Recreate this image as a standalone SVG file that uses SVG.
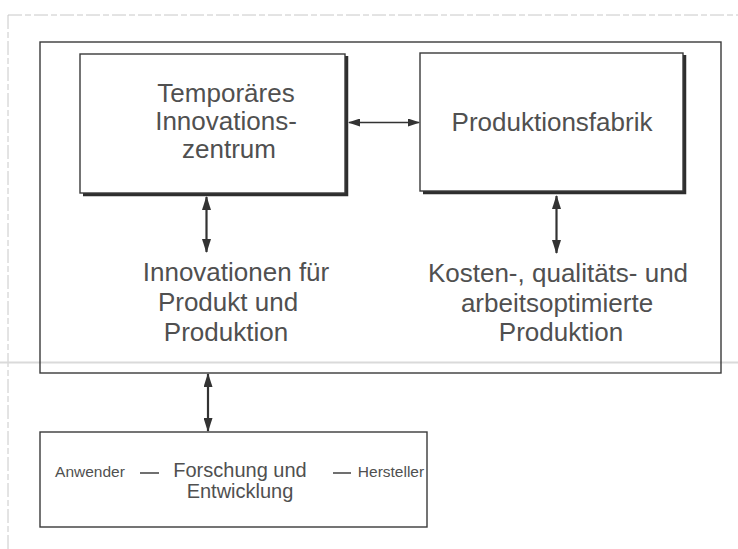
<svg xmlns="http://www.w3.org/2000/svg" width="738" height="549" viewBox="0 0 738 549">
  <defs>
    <marker id="head" viewBox="0 0 12 8" refX="11" refY="4" markerWidth="12" markerHeight="8" markerUnits="userSpaceOnUse" orient="auto-start-reverse">
      <path d="M0,0 L12,4 L0,8 Z" fill="#333"/>
    </marker>
    <marker id="headV" viewBox="0 0 14 9" refX="13" refY="4.5" markerWidth="14" markerHeight="9" markerUnits="userSpaceOnUse" orient="auto-start-reverse">
      <path d="M0,0 L14,4.5 L0,9 Z" fill="#333"/>
    </marker>
    <style>
      .frame { fill: none; stroke: #3a3a3a; stroke-width: 1.4; }
      .box { fill: #fff; stroke: #3a3a3a; stroke-width: 1.4; }
      .shadow { fill: none; stroke: #2e2e2e; stroke-width: 3.5; }
      .page { fill: none; stroke: #c8c8c8; stroke-width: 1; stroke-dasharray: 14 3 6 3; }
      .txt { font-family: "Liberation Sans", Arial, sans-serif; fill: #505050; text-anchor: middle; }
      .big { font-size: 26px; }
      .mid { font-size: 20px; }
      .small { font-size: 15.5px; }
      .conn { stroke: #333; fill: none; }
    </style>
  </defs>

  <rect width="738" height="549" fill="#fff"/>

  <!-- faint page border -->
  <path class="page" d="M8,15 H738 M8,15 V549"/>
  <line x1="0" y1="362.5" x2="738" y2="362.5" stroke="#dadada" stroke-width="2"/>

  <!-- outer frame -->
  <g id="outer">
    <rect class="frame" x="40" y="42" width="681" height="331"/>
  </g>

  <g id="innovationszentrum">
    <path class="shadow" d="M346.5,56 V194.5 H83"/>
    <rect class="box" x="80" y="54" width="265" height="139"/>
    <text class="txt big" x="226" y="102">Temporäres</text>
    <text class="txt big" x="226" y="130">Innovations-</text>
    <text class="txt big" x="229" y="158">zentrum</text>
  </g>

  <g id="produktionsfabrik">
    <path class="shadow" d="M684.5,55 V192.5 H423"/>
    <rect class="box" x="420" y="53" width="263" height="138"/>
    <text class="txt big" x="552" y="131">Produktionsfabrik</text>
  </g>

  <g id="innovationen">
    <text class="txt big" x="236" y="281">Innovationen für</text>
    <text class="txt big" x="228" y="311">Produkt und</text>
    <text class="txt big" x="226" y="341">Produktion</text>
  </g>

  <g id="optimierte-produktion">
    <text class="txt big" x="558" y="282">Kosten-, qualitäts- und</text>
    <text class="txt big" x="557" y="312">arbeitsoptimierte</text>
    <text class="txt big" x="561" y="341">Produktion</text>
  </g>

  <g id="forschung">
    <rect class="frame" x="40" y="432" width="387" height="95"/>
    <text class="txt small" x="90" y="477">Anwender</text>
    <line x1="140" y1="473" x2="159" y2="473" stroke="#404040" stroke-width="1.5"/>
    <text class="txt mid" x="240" y="477">Forschung und</text>
    <text class="txt mid" x="240" y="498">Entwicklung</text>
    <line x1="333" y1="473" x2="351" y2="473" stroke="#404040" stroke-width="1.5"/>
    <text class="txt small" x="391" y="477">Hersteller</text>
  </g>

  <g id="connectors">
    <line class="conn" x1="349" y1="122.5" x2="419" y2="122.5" stroke-width="1.4" marker-start="url(#head)" marker-end="url(#head)"/>
    <line class="conn" x1="206.5" y1="197" x2="206.5" y2="252" stroke-width="2.2" marker-start="url(#headV)" marker-end="url(#headV)"/>
    <line class="conn" x1="556.5" y1="196" x2="556.5" y2="253" stroke-width="2.2" marker-start="url(#headV)" marker-end="url(#headV)"/>
    <line class="conn" x1="208" y1="374" x2="208" y2="431" stroke-width="2.2" marker-start="url(#headV)" marker-end="url(#headV)"/>
  </g>
</svg>
